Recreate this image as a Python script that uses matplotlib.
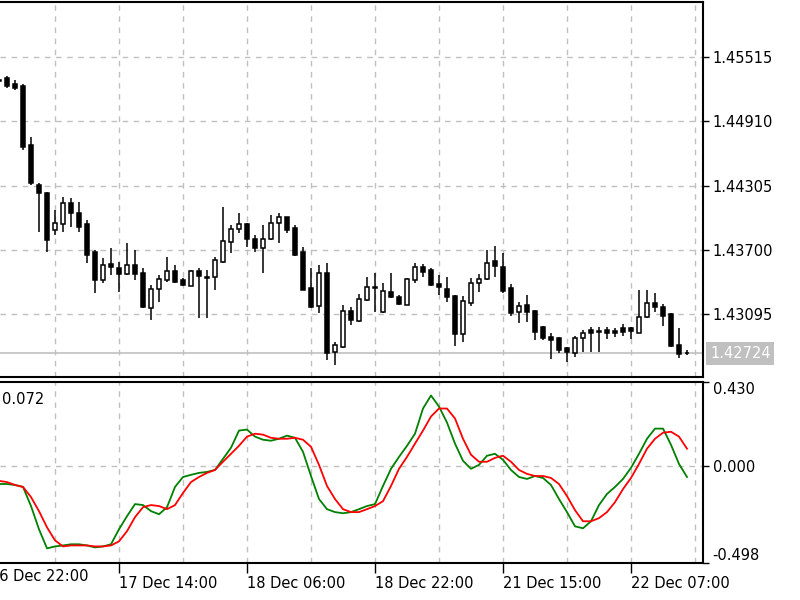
import matplotlib
matplotlib.use("Agg")
import matplotlib.pyplot as plt
import matplotlib.transforms as mtransforms
import numpy as np

# H1 candles, first one is half cut off at the left edge
opens = [1.45299, 1.45318, 1.45261, 1.45242, 1.44686, 1.44310, 1.44234, 1.43886, 1.43942, 1.44140,
         1.44046, 1.43942, 1.43679, 1.43415, 1.43566, 1.43529, 1.43472, 1.43557, 1.43481, 1.43151,
         1.43330, 1.43415, 1.43500, 1.43415, 1.43359, 1.43500, 1.43444, 1.43444, 1.43585, 1.43773,
         1.43895, 1.43942, 1.43801, 1.43717, 1.43801, 1.43951, 1.44008, 1.43905, 1.43679, 1.43340,
         1.43170, 1.43481, 1.42737, 1.42784, 1.43123, 1.43029, 1.43227, 1.43349, 1.43114, 1.43302,
         1.43255, 1.43180, 1.43415, 1.43538, 1.43510, 1.43378, 1.43330, 1.43265, 1.42906, 1.43198,
         1.43387, 1.43425, 1.43594, 1.43538, 1.43340, 1.43114, 1.43180, 1.43123, 1.42972, 1.42878,
         1.42869, 1.42775, 1.42728, 1.42869, 1.42944, 1.42935, 1.42944, 1.42935, 1.42963, 1.42963,
         1.42916, 1.43067, 1.43198, 1.43161, 1.43095, 1.42803, 1.42728]
highs = [1.45327, 1.45336, 1.45299, 1.45261, 1.44762, 1.44329, 1.44244, 1.44074, 1.44197, 1.44188,
         1.44150, 1.43980, 1.43698, 1.43623, 1.43717, 1.43585, 1.43764, 1.43698, 1.43529, 1.43368,
         1.43463, 1.43632, 1.43557, 1.43434, 1.43510, 1.43529, 1.43510, 1.43632, 1.44103, 1.43933,
         1.44046, 1.43951, 1.43839, 1.43933, 1.44027, 1.44046, 1.44008, 1.43933, 1.43726, 1.43529,
         1.43557, 1.43576, 1.42831, 1.43180, 1.43161, 1.43283, 1.43444, 1.43481, 1.43387, 1.43481,
         1.43274, 1.43434, 1.43576, 1.43566, 1.43529, 1.43463, 1.43444, 1.43274, 1.43265, 1.43434,
         1.43472, 1.43698, 1.43735, 1.43670, 1.43378, 1.43208, 1.43274, 1.43132, 1.42982, 1.42916,
         1.42878, 1.42784, 1.42888, 1.42944, 1.42972, 1.42972, 1.42972, 1.42963, 1.43001, 1.42972,
         1.43321, 1.43321, 1.43293, 1.43189, 1.43104, 1.42963, 1.42756]
lows = [1.45261, 1.45223, 1.45204, 1.44639, 1.44310, 1.43867, 1.43679, 1.43839, 1.43867, 1.43914,
        1.43867, 1.43576, 1.43293, 1.43387, 1.43463, 1.43302, 1.43463, 1.43415, 1.43151, 1.43038,
        1.43208, 1.43397, 1.43387, 1.43359, 1.43359, 1.43057, 1.43057, 1.43321, 1.43576, 1.43670,
        1.43858, 1.43726, 1.43679, 1.43481, 1.43792, 1.43764, 1.43858, 1.43641, 1.43321, 1.43151,
        1.43104, 1.42662, 1.42615, 1.42775, 1.42991, 1.43019, 1.43217, 1.43114, 1.43104, 1.43246,
        1.43180, 1.43180, 1.43387, 1.43444, 1.43359, 1.43274, 1.43208, 1.42793, 1.42831, 1.43170,
        1.43302, 1.43415, 1.43444, 1.43293, 1.43076, 1.43010, 1.43019, 1.42850, 1.42850, 1.42671,
        1.42728, 1.42643, 1.42690, 1.42737, 1.42737, 1.42737, 1.42859, 1.42878, 1.42888, 1.42859,
        1.42916, 1.43057, 1.43114, 1.42982, 1.42784, 1.42681, 1.42709]
closes = [1.45289, 1.45242, 1.45223, 1.44668, 1.44329, 1.44234, 1.43792, 1.43951, 1.44140, 1.44046,
          1.43914, 1.43651, 1.43415, 1.43557, 1.43538, 1.43472, 1.43557, 1.43472, 1.43161, 1.43330,
          1.43425, 1.43500, 1.43397, 1.43368, 1.43500, 1.43453, 1.43434, 1.43604, 1.43782, 1.43895,
          1.43942, 1.43801, 1.43717, 1.43801, 1.43951, 1.44008, 1.43886, 1.43651, 1.43321, 1.43161,
          1.43481, 1.42728, 1.42803, 1.43123, 1.43038, 1.43236, 1.43349, 1.43340, 1.43312, 1.43255,
          1.43189, 1.43425, 1.43538, 1.43491, 1.43368, 1.43349, 1.43255, 1.42906, 1.43217, 1.43387,
          1.43425, 1.43576, 1.43547, 1.43312, 1.43104, 1.43170, 1.43114, 1.42925, 1.42869, 1.42850,
          1.42756, 1.42737, 1.42869, 1.42916, 1.42916, 1.42925, 1.42916, 1.42916, 1.42925, 1.42935,
          1.43067, 1.43198, 1.43161, 1.43076, 1.42793, 1.42718, 1.42724]

# oscillator: main (green) and signal (red)
main_line = [-0.093, -0.093, -0.098, -0.108, -0.206, -0.325, -0.423, -0.413, -0.408, -0.402,
             -0.402, -0.408, -0.418, -0.413, -0.402, -0.325, -0.258, -0.196, -0.201, -0.232,
             -0.248, -0.212, -0.108, -0.057, -0.046, -0.036, -0.031, -0.021, 0.036, 0.093,
             0.181, 0.186, 0.150, 0.134, 0.129, 0.139, 0.155, 0.144, 0.072, -0.052,
             -0.170, -0.222, -0.237, -0.243, -0.237, -0.222, -0.206, -0.196, -0.103, -0.015,
             0.046, 0.103, 0.165, 0.294, 0.361, 0.304, 0.222, 0.114, 0.026, -0.015,
             0.005, 0.052, 0.062, 0.031, -0.021, -0.057, -0.067, -0.052, -0.062, -0.098,
             -0.170, -0.237, -0.310, -0.320, -0.284, -0.201, -0.144, -0.108, -0.067, -0.010,
             0.062, 0.139, 0.191, 0.191, 0.108, 0.010, -0.057]
signal_line = [-0.077, -0.083, -0.098, -0.108, -0.160, -0.232, -0.315, -0.382, -0.413, -0.408,
               -0.408, -0.408, -0.413, -0.413, -0.408, -0.387, -0.335, -0.263, -0.212, -0.201,
               -0.206, -0.222, -0.201, -0.139, -0.083, -0.057, -0.036, -0.021, 0.021, 0.062,
               0.103, 0.150, 0.165, 0.160, 0.144, 0.139, 0.139, 0.144, 0.134, 0.098,
               0.005, -0.103, -0.170, -0.222, -0.237, -0.237, -0.222, -0.206, -0.181, -0.103,
               -0.015, 0.046, 0.114, 0.181, 0.253, 0.294, 0.294, 0.243, 0.139, 0.057,
               0.021, 0.021, 0.041, 0.052, 0.021, -0.021, -0.041, -0.052, -0.052, -0.062,
               -0.093, -0.155, -0.227, -0.284, -0.284, -0.268, -0.237, -0.186, -0.119, -0.062,
               0.010, 0.088, 0.139, 0.170, 0.175, 0.150, 0.088]

price_ticks = [1.45515, 1.44910, 1.44305, 1.43700, 1.43095]
osc_ticks = [0.430, 0.000, -0.498]
last_price = 1.42724
time_labels = ["16 Dec 22:00", "17 Dec 14:00", "18 Dec 06:00", "18 Dec 22:00", "21 Dec 15:00", "22 Dec 07:00"]
time_label_bars = [-2, 14, 30, 46, 62, 78]

bars = np.arange(-1, len(opens) - 1)
o = np.array(opens); h = np.array(highs); l = np.array(lows); c = np.array(closes)

plt.rcParams['font.family'] = 'DejaVu Sans'
grid_kw = dict(color='#c0c0c0', linestyle=(0, (4, 4)), linewidth=1, zorder=0)

fig = plt.figure(figsize=(8, 6), dpi=100)
ax = fig.add_axes([0, 1 - 377 / 600, 703 / 800, 375 / 600])
ax2 = fig.add_axes([0, 1 - 563 / 600, 703 / 800, 181 / 600])

xmin, xmax = -0.875, 87
for a in (ax, ax2):
    a.set_xlim(xmin, xmax)
    for g in range(6, 87, 8):
        a.axvline(g, **grid_kw)
    a.spines['left'].set_visible(False)
    for s in ('top', 'right', 'bottom'):
        a.spines[s].set_linewidth(1.5)
    a.yaxis.tick_right()
    a.tick_params(axis='y', direction='out', length=4, width=1, pad=3, labelsize=10.5)

# price panel
ax.set_ylim(1.42502, 1.46033)
for p in price_ticks:
    ax.axhline(p, **grid_kw)
ax.axhline(last_price, color='#c0c0c0', linewidth=1.2, zorder=1)

ax.vlines(bars, l, h, color='black', linewidth=1.1, zorder=2)
up = c >= o
ax.bar(bars[up], np.maximum(c[up] - o[up], 0.000005), bottom=o[up], width=0.62,
       facecolor='white', edgecolor='black', linewidth=1.1, zorder=3)
ax.bar(bars[~up], o[~up] - c[~up], bottom=c[~up], width=0.62,
       facecolor='black', edgecolor='black', linewidth=1.1, zorder=3)

ax.set_yticks(price_ticks)
ax.set_yticklabels(['%.5f' % p for p in price_ticks])
ax.set_xticks([])

trans = mtransforms.offset_copy(
    mtransforms.blended_transform_factory(ax.transAxes, ax.transData), fig=fig, x=7, y=0, units='dots')
ax.text(1.0, last_price, '%.5f' % last_price, transform=trans, color='white', fontsize=10.5,
        va='center', ha='left', clip_on=False,
        bbox=dict(boxstyle='square,pad=0.25', facecolor='#c0c0c0', edgecolor='none'))

# oscillator panel
ax2.set_ylim(-0.498, 0.430)
ax2.axhline(0, **grid_kw)
ax2.plot(bars, main_line, color='#008000', linewidth=1.3, zorder=3)
ax2.plot(bars, signal_line, color='#ff0000', linewidth=1.3, zorder=3)
ax2.set_yticks(osc_ticks)
ax2.set_yticklabels(['%.3f' % v for v in osc_ticks])
ylabels = ax2.get_yticklabels()
ylabels[0].set_va('top')
ylabels[2].set_va('bottom')
ax2.text(2 / 703, 1 - 18 / 181, '0.072', transform=ax2.transAxes, fontsize=10.5, va='center', ha='left')

shown = [b for b in time_label_bars if b >= xmin]
ax2.set_xticks(shown)
ax2.set_xticklabels([time_labels[time_label_bars.index(b)] for b in shown])
ax2.tick_params(axis='x', direction='out', length=7, width=1, pad=2, labelsize=10.5)
for t in ax2.get_xticklabels():
    t.set_ha('left')
# first date label sits left of the visible range and is cut by the edge
for b, lab in zip(time_label_bars, time_labels):
    if b < xmin:
        ax2.text(b - 0.1, -0.035, lab, transform=mtransforms.blended_transform_factory(ax2.transData, ax2.transAxes),
                 fontsize=10.5, va='top', ha='left', clip_on=False)

fig.savefig('out.png', dpi=100)
